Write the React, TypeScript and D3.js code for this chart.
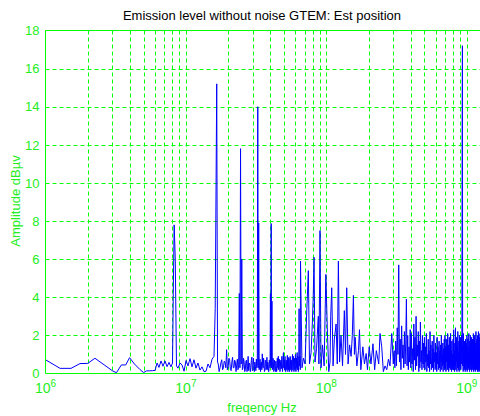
// @ts-nocheck
import React from 'react'
import * as d3 from 'd3'

const width = 480
const height = 416
const plot = { left: 45.5, top: 30.5, bottom: 373.5, right: 482.7 }

const title = 'Emission level without noise GTEM: Est position'
const xLabel = 'freqency Hz'
const yLabel = 'Amplitude dBµv'

const yTicks = [0, 2, 4, 6, 8, 10, 12, 14, 16, 18]
const decades = [6, 7, 8, 9]

// 1 - 17 MHz, [MHz, dBµV]
const lowTrace = [
  [1.0, 0.72], [1.27, 0.27], [1.52, 0.27], [1.76, 0.52], [2.0, 0.53], [2.25, 0.8], [3.0, 0.14], [3.2, 0.04],
  [3.47, 0.45], [3.73, 0.45], [3.97, 0.83], [4.3, 0.5], [4.72, 0.2], [5.0, 0.05], [5.25, 0.14], [5.5, 0.14],
  [5.8, 0.15], [6.03, 0.16], [6.23, 0.55], [6.43, 0.32], [6.65, 0.66], [6.87, 0.38], [7.1, 0.66], [7.34, 0.36],
  [7.58, 0.58], [7.83, 0.35], [8.03, 0.55], [8.13, 4.2], [8.25, 7.8], [8.4, 6.0], [8.57, 0.4], [8.78, 0.28],
  [9.08, 0.55], [9.38, 0.45], [9.7, 0.12], [10.02, 0.68], [10.35, 0.4], [10.7, 0.78], [11.05, 0.35], [11.42, 0.72],
  [11.8, 0.28], [12.19, 0.55], [12.6, 0.18], [13.02, 0.35], [13.46, 0.1], [13.91, 0.12], [14.37, 0.5], [14.85, 0.3],
  [15.35, 0.75], [15.86, 0.9], [16.17, 3.4], [16.33, 7.9], [16.58, 15.2], [16.8, 0.6],
]

// 17 - 65.5 MHz, every 0.25 MHz
const bandAStart = 17
const bandAStep = 0.25
const bandA = [
  0.5, 0.1, 0.3, 0.55, 0.72, 0.2, 0.3, 0.65, 0.6, 0.3, 1.25, 0.2, 0.35, 0.8, 0.7, 0.2, 0.15, 0.6, 0.85, 0.3,
  0.3, 0.7, 0.6, 0.1, 0.45, 0.75, 0.2, 0.4, 4.2, 0.3, 11.8, 0.5, 6.0, 0.2, 0.3, 0.8, 0.6, 0.1, 0.2, 0.65,
  0.7, 0.1, 0.35, 0.9, 0.15, 0.55, 0.5, 0.1, 0.3, 0.7, 0.86, 0.15, 0.2, 0.8, 0.45, 0.1, 0.6, 0.35, 0.15, 0.75,
  0.3, 0.5, 14.0, 0.3, 7.9, 0.2, 0.4, 0.75, 0.1, 0.5, 0.6, 0.2, 1.03, 0.4, 0.3, 0.8, 0.5, 0.1, 0.15, 0.7,
  0.6, 0.2, 0.3, 0.85, 0.2, 0.6, 0.5, 0.1, 0.1, 0.7, 0.6, 0.3, 4.2, 0.4, 7.87, 0.3, 3.8, 0.2, 0.3, 0.8,
  0.55, 0.1, 0.2, 0.7, 0.5, 0.2, 0.1, 0.65, 0.4, 0.1, 0.15, 0.8, 0.6, 0.3, 0.9, 0.2, 0.3, 0.75, 0.5, 0.1,
  0.2, 0.6, 0.7, 0.25, 0.3, 0.9, 0.5, 0.1, 0.25, 0.8, 1.1, 0.3, 0.4, 0.7, 0.2, 0.9, 0.55, 0.1, 0.1, 0.7,
  0.6, 0.2, 0.3, 0.95, 0.45, 0.1, 0.85, 0.3, 0.2, 0.8, 0.5, 0.1, 0.3, 0.9, 0.75, 0.2, 0.2, 0.7, 0.6, 0.1,
  0.4, 0.85, 1.0, 0.2, 0.3, 0.9, 0.6, 0.1, 0.15, 0.8, 0.6, 0.2, 0.35, 1.0, 0.75, 0.1, 0.2, 0.8, 0.5, 0.3,
  1.1, 0.2, 0.4, 0.9, 0.6, 0.1, 0.3, 0.7, 3.4, 0.4, 0.5, 0.9, 0.8, 0.2, 5.9,
]

// 67 - 296 MHz, [MHz, dBµV]
const harmonicTrace = [
  [67.1, 0.3], [68.8, 0.8], [70.6, 0.5], [72.6, 3.3], [74.5, 5.4], [75.9, 0.5], [77.9, 1.1], [79.5, 2.6],
  [80.7, 4.0], [81.8, 6.1], [83.1, 0.6], [85.2, 1.3], [87.7, 3.0], [88.6, 0.5], [90.2, 7.5], [91.7, 0.3],
  [94.0, 1.5], [96.5, 0.4], [99.3, 5.2], [101.6, 2.4], [104.1, 0.1], [106.3, 0.6], [107.5, 3.0], [109.3, 4.5],
  [111.7, 0.4], [114.1, 1.8], [117.4, 2.6], [119.7, 0.5], [121.9, 5.9], [124.3, 0.6], [127.3, 2.0], [130.5, 0.4],
  [134.4, 3.3], [137.1, 1.0], [139.8, 4.5], [142.9, 0.5], [146.5, 1.5], [150.2, 0.9], [153.2, 2.0], [156.0, 4.1],
  [158.6, 1.0], [160.5, 1.9], [165.1, 0.4], [169.5, 1.2], [172.3, 2.3], [176.2, 0.2], [182.1, 1.4], [187.0, 0.5],
  [192.3, 1.05], [196.4, 0.2], [202.1, 1.4], [208.0, 0.5], [215.0, 1.56], [221.0, 0.2], [227.1, 1.2], [236.3, 0.5],
  [241.3, 2.1], [248.2, 1.4], [254.9, 0.1], [262.1, 0.4], [269.5, 0.2], [277.0, 0.75], [284.3, 0.4], [292.5, 2.1],
  [296.0, 1.4],
]

// 300 - 1300 MHz, every 4 MHz
const denseStart = 300
const denseStep = 4
const denseAmp = [
  0.5, 1.2, 0.3, 1.7, 0.4, 2.4, 1.0, 5.7, 0.6, 1.8, 0.2, 2.5, 0.8, 1.5, 0.3, 2.2, 0.5, 1.6, 3.9, 0.4, 2.0, 0.2, 1.4, 0.6, 2.3,
  0.3, 2.1, 0.5, 1.3, 0.1, 2.6, 0.7, 1.9, 0.2, 3.0, 0.4, 1.5, 0.9, 2.2, 0.1, 1.7, 0.3, 2.7, 0.6, 1.2, 0.2, 2.0, 0.5, 1.6, 0.3,
  1.9, 0.2, 1.4, 0.6, 2.1, 0.1, 1.0, 0.4, 1.8, 0.3, 1.2, 0.1, 2.2, 0.5, 1.5, 0.2, 0.9, 1.7, 0.3, 1.3, 0.1, 2.0, 0.6, 1.1, 0.2,
  1.6, 0.3, 1.1, 0.1, 1.9, 0.5, 1.4, 0.2, 0.8, 1.7, 0.3, 1.2, 0.1, 1.5, 0.6, 2.0, 0.2, 1.0, 0.4, 1.6, 0.1, 1.3, 0.5, 1.8, 0.2,
  2.0, 0.3, 1.4, 0.1, 1.8, 0.6, 1.1, 0.2, 2.1, 0.4, 1.5, 0.1, 0.9, 1.9, 0.3, 1.3, 0.2, 2.1, 0.5, 1.2, 0.1, 1.7, 0.4, 1.0, 0.2,
  1.8, 0.2, 2.3, 0.5, 1.2, 0.1, 1.6, 0.4, 2.4, 0.2, 1.0, 0.6, 1.9, 0.1, 1.4, 0.3, 2.2, 0.5, 1.1, 0.2, 1.7, 0.1, 2.0, 0.4, 1.3,
  0.3, 1.9, 0.2, 1.3, 0.5, 2.0, 1.1, 12.8, 17.2, 0.4, 1.5, 0.1, 2.1, 0.6, 1.2, 0.2, 1.7, 0.3, 1.0, 0.1, 1.8, 0.5, 1.4, 0.2, 1.6,
  0.4, 2.0, 0.1, 1.3, 0.6, 1.8, 0.2, 1.1, 0.3, 2.1, 0.5, 1.4, 0.1, 1.7, 0.4, 0.9, 2.0, 0.2, 1.2, 0.5, 1.9, 0.1, 1.5, 0.3, 1.0,
  1.8, 0.2, 1.3, 0.5, 2.1, 0.1, 1.0, 0.4, 1.7, 0.2, 2.0, 0.6, 1.2, 0.1, 1.6, 0.3, 2.2, 0.4, 0.9, 0.2, 1.8, 0.5, 1.3, 0.1, 2.0,
  0.3, 1.6, 0.1, 2.2, 0.5, 1.2, 0.2, 1.9, 0.4, 1.0, 0.1, 2.1, 0.6, 1.4, 0.2, 1.7, 0.3, 2.0, 0.5, 1.1, 0.1, 1.8, 0.4, 1.5, 0.2, 1.9,
]

const green = '#00ff00'
const textGreen = '#22ee22'
const blue = '#0000ff'
const font = 'Arial, "Liberation Sans", sans-serif'

const points = [
  ...lowTrace.map(([f, a]) => [f * 1e6, a]),
  ...bandA.map((a, i) => [(bandAStart + i * bandAStep) * 1e6, a]),
  ...harmonicTrace.map(([f, a]) => [f * 1e6, a]),
  ...denseAmp.map((a, i) => [(denseStart + i * denseStep) * 1e6, a]),
]

const x = d3.scaleLog().domain([1e6, 1.3e9]).range([plot.left, plot.right])
const y = d3.scaleLinear().domain([0, 18]).range([plot.bottom, plot.top])

const minorX = []
decades.forEach((e) => {
  for (let m = 2; m <= 9; m++) {
    const v = m * 10 ** e
    if (v < 1.3e9) minorX.push(v)
  }
})

const line = d3
  .line()
  .x((d) => x(d[0]))
  .y((d) => y(d[1]))

export default function App() {
  const gridX = [...decades.map((e) => 10 ** e).filter((v) => v > 1e6), ...minorX]
  return (
    <svg
      width={width}
      height={height}
      style={{ position: 'absolute', left: 0, top: 0, background: '#fff' }}
      fontFamily={font}
    >
      <defs>
        <clipPath id="plotclip">
          <rect x={plot.left} y={plot.top} width={plot.right - plot.left} height={plot.bottom - plot.top} />
        </clipPath>
      </defs>
      <rect width={width} height={height} fill="#fff" />

      <g stroke={green} strokeWidth={1} strokeDasharray="4,3">
        {gridX.map((v) => (
          <line key={'gx' + v} x1={Math.round(x(v)) + 0.5} x2={Math.round(x(v)) + 0.5} y1={plot.top} y2={plot.bottom} />
        ))}
        {yTicks.slice(1, -1).map((v) => (
          <line key={'gy' + v} x1={plot.left} x2={plot.right} y1={Math.round(y(v)) + 0.5} y2={Math.round(y(v)) + 0.5} />
        ))}
      </g>

      <path d={line(points)} fill="none" stroke={blue} strokeWidth={1} clipPath="url(#plotclip)" />

      <g stroke={green} strokeWidth={1} fill="none">
        <line x1={plot.left} x2={plot.right} y1={plot.top} y2={plot.top} />
        <line x1={plot.left} x2={plot.right} y1={plot.bottom} y2={plot.bottom} />
        <line x1={plot.left} x2={plot.left} y1={plot.top} y2={plot.bottom} />
        <line x1={plot.right} x2={plot.right} y1={plot.top} y2={plot.bottom} />
      </g>

      <g fill={textGreen} fontSize={13}>
        {yTicks.map((v) => (
          <text key={'ty' + v} x={plot.left - 6} y={y(v)} dy="0.36em" textAnchor="end">
            {v}
          </text>
        ))}
        {decades.map((e) => (
          <text key={'tx' + e} x={x(10 ** e)} y={393} textAnchor="middle" fontSize={14}>
            10
            <tspan dy={-6} fontSize={10}>
              {e}
            </tspan>
          </text>
        ))}
        <text x={262} y={412} textAnchor="middle">
          {xLabel}
        </text>
        <text transform={`translate(20, 201) rotate(-90)`} textAnchor="middle">
          {yLabel}
        </text>
      </g>

      <text x={262} y={20} textAnchor="middle" fontSize={13} fill="#000">
        {title}
      </text>
    </svg>
  )
}
